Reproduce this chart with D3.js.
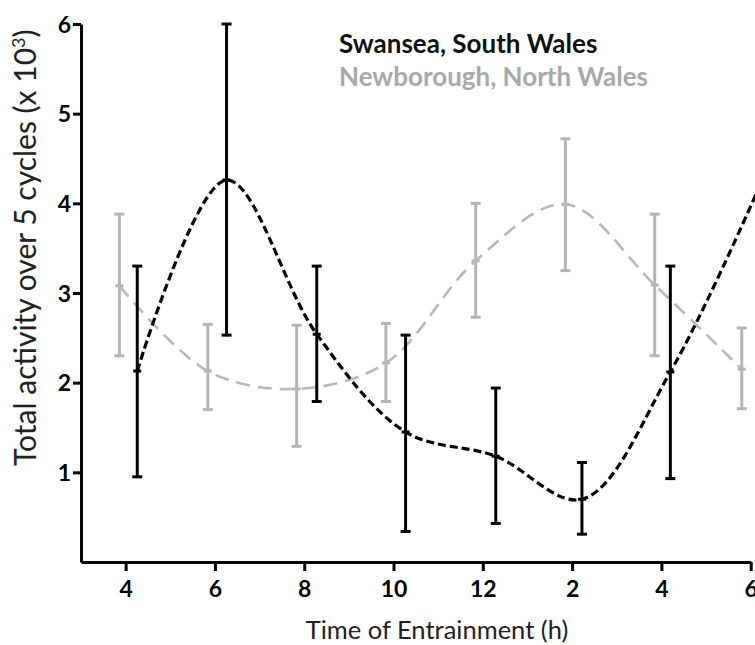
<!DOCTYPE html>
<html>
<head>
  <title>Total activity over 5 cycles</title>
  <script src="https://d3js.org/d3.v7.min.js"></script>
  <style>
    body { margin: 0; background: white; }
    svg { display: block; font-family: Lato, "Open Sans", sans-serif; }
    .axis path, .axis line { stroke: black; stroke-width: 3px; }
    .axis text { font-family: Lato, sans-serif; font-size: 23px; font-weight: bold; fill: black; }
    .axis-label { font-size: 25.5px; fill: #222; }
    .y-label { font-size: 30px; fill: #222; }
    .legend { font-size: 26px; font-weight: bold; }
  </style>
</head>
<body>
<div id="chart"></div>
<script>
  // Swansea, South Wales (black)
  const swanseaHours = [4.26, 6.26, 8.28, 10.27, 12.29, 14.22, 16.2];
  const swanseaMean  = [2.13, 4.26, 2.54, 1.45, 1.18, 0.70, 2.12];
  const swanseaUpper = [3.30, 6.00, 3.30, 2.53, 1.94, 1.11, 3.30];
  const swanseaLower = [0.95, 2.53, 1.79, 0.34, 0.43, 0.31, 0.93];
  // the curve runs on to the repeated 6h point, past the right edge
  const swanseaTailHour = 18.26;
  const swanseaTailMean = 4.26;

  // Newborough, North Wales (grey)
  const newboroughHours = [3.86, 5.84, 7.83, 9.83, 11.84, 13.85, 15.85, 17.8];
  const newboroughMean  = [3.08, 2.13, 1.93, 2.22, 3.36, 3.99, 3.09, 2.15];
  const newboroughUpper = [3.88, 2.65, 2.64, 2.66, 4.00, 4.72, 3.88, 2.61];
  const newboroughLower = [2.30, 1.70, 1.29, 1.79, 2.73, 3.25, 2.30, 1.71];

  const xTicks = [4, 6, 8, 10, 12, 14, 16, 18];
  const yTicks = [1, 2, 3, 4, 5, 6];

  const width = 755, height = 645;

  const x = d3.scaleLinear().domain([3, 18]).range([81, 750.7]);
  const y = d3.scaleLinear().domain([0, 6]).range([562, 24]);

  const svg = d3.select("#chart").append("svg")
    .attr("width", width)
    .attr("height", height);

  // axes
  svg.append("g")
    .attr("class", "axis")
    .attr("transform", `translate(0,${y(0)})`)
    .call(d3.axisBottom(x).tickValues(xTicks).tickSize(9).tickSizeOuter(0)
      .tickFormat(d => (d % 12) || 12))
    .call(g => g.selectAll("text").attr("y", 19).attr("dy", "0.71em"));

  svg.append("g")
    .attr("class", "axis")
    .attr("transform", `translate(${x(3)},0)`)
    .call(d3.axisLeft(y).tickValues(yTicks).tickSize(8).tickSizeOuter(0).tickFormat(d3.format("d")))
    .call(g => g.selectAll("text").attr("x", -10).attr("dy", "0.36em"));

  // axis titles
  svg.append("text")
    .attr("class", "axis-label")
    .attr("x", 437)
    .attr("y", 639)
    .attr("text-anchor", "middle")
    .text("Time of Entrainment (h)");

  const yTitle = svg.append("text")
    .attr("class", "y-label")
    .attr("transform", "translate(36,466) rotate(-90)")
    .attr("text-anchor", "start");
  yTitle.append("tspan").text("Total activity over 5 cycles (x 10");
  yTitle.append("tspan").attr("dy", -11).style("font-size", "18px").text("3");
  yTitle.append("tspan").attr("dy", 11).text(")");

  // build point tables
  function rows(hours, mean, upper, lower) {
    return hours.map((h, i) => ({ h: h, m: mean[i], u: upper[i], l: lower[i] }));
  }
  const swansea = rows(swanseaHours, swanseaMean, swanseaUpper, swanseaLower);
  const newborough = rows(newboroughHours, newboroughMean, newboroughUpper, newboroughLower);

  const line = d3.line()
    .x(d => x(d.h))
    .y(d => y(d.m))
    .curve(d3.curveCatmullRom.alpha(0.5));

  function errorBars(data, color, cls) {
    const g = svg.append("g").attr("class", cls)
      .attr("stroke", color).attr("stroke-width", 3).attr("fill", "none");
    data.forEach(d => {
      g.append("line").attr("x1", x(d.h)).attr("x2", x(d.h)).attr("y1", y(d.u)).attr("y2", y(d.l));
      g.append("line").attr("x1", x(d.h) - 5).attr("x2", x(d.h) + 5).attr("y1", y(d.u)).attr("y2", y(d.u));
      g.append("line").attr("x1", x(d.h) - 5).attr("x2", x(d.h) + 5).attr("y1", y(d.l)).attr("y2", y(d.l));
      g.append("line").attr("x1", x(d.h) - 4).attr("x2", x(d.h) + 4).attr("y1", y(d.m)).attr("y2", y(d.m));
    });
  }

  // grey series first (behind)
  errorBars(newborough, "#b5b5b5", "newborough-bars");
  svg.append("path")
    .datum(newborough)
    .attr("fill", "none")
    .attr("stroke", "#b8b8b8")
    .attr("stroke-width", 2.6)
    .attr("stroke-dasharray", "14,8")
    .attr("d", line);

  errorBars(swansea, "black", "swansea-bars");
  svg.append("path")
    .datum(swansea.concat([{ h: swanseaTailHour, m: swanseaTailMean }]))
    .attr("fill", "none")
    .attr("stroke", "black")
    .attr("stroke-width", 3.2)
    .attr("stroke-dasharray", "8,4")
    .attr("d", line);

  // legend
  svg.append("text").attr("class", "legend")
    .attr("x", 339).attr("y", 53).attr("fill", "#111")
    .text("Swansea, South Wales");
  svg.append("text").attr("class", "legend")
    .attr("x", 339).attr("y", 86).attr("fill", "#a9a9a9")
    .text("Newborough, North Wales");
</script>
</body>
</html>
